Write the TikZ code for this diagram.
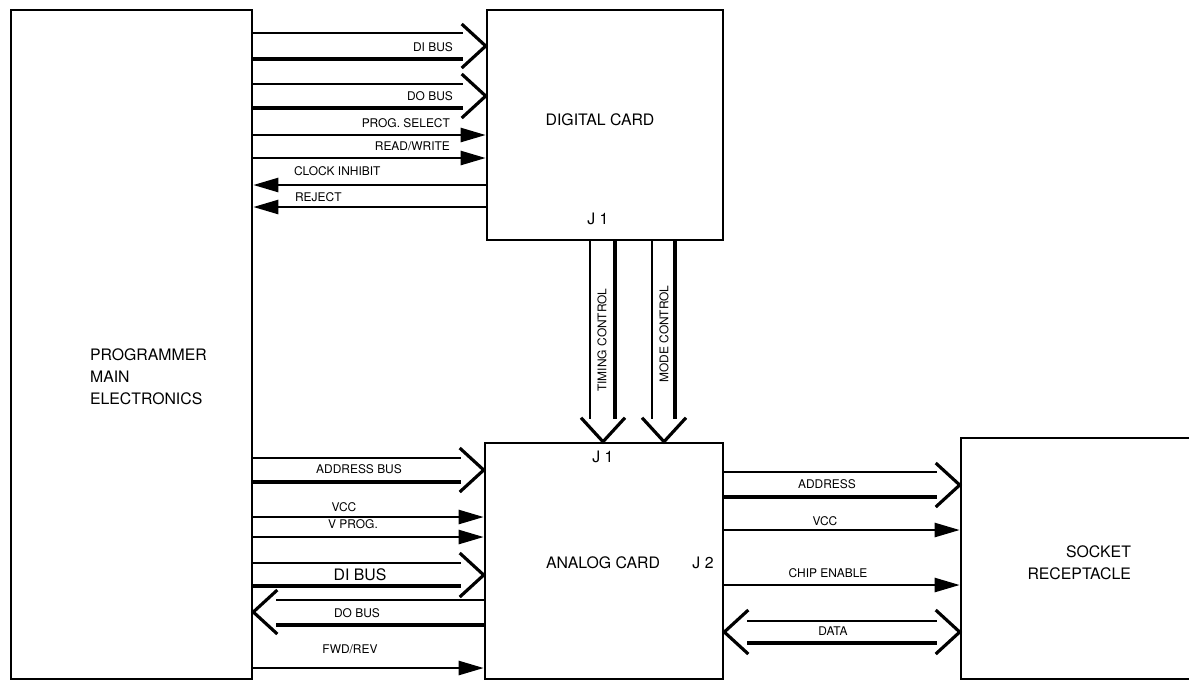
\documentclass[tikz,border=0pt]{standalone}
\usepackage{fontspec}
\setmainfont{TeX Gyre Heros}
\usetikzlibrary{arrows.meta}
\tikzset{%%
  >={Triangle[length=5mm,width=2.8mm]},
  card/.style={draw, line width=1.5pt, inner sep=0pt},
  sig/.style={line width=1.4pt},
  thinbus/.style={line width=1.1pt, shorten >=4.6mm},
  thickbus/.style={line width=2.2pt, shorten >=4.6mm},
  chev/.style={line width=1.8pt},
  lbl/.style={font=\fontsize{6.8}{7}\selectfont, inner sep=1pt},
  big/.style={font=\fontsize{9}{12.5}\selectfont, inner sep=1pt}
  }

\begin{document}
\begin{tikzpicture}[x=0.02cm, y=-0.02cm]
  \useasboundingbox (0,0) rectangle (1189,681);
  % blocks
  \node[card, minimum width=4.82cm, minimum height=13.38cm] (main) at (131.5,344.5) {};
  \node[card, minimum width=4.72cm, minimum height=4.6cm] (dig) at (605,125) {};
  \node[card, minimum width=4.76cm, minimum height=4.72cm] (ana) at (604,561) {};
  \node[card, minimum width=5cm, minimum height=4.82cm] (sock) at (1086,558.5) {};
  \node[big, align=left, anchor=west] (mainlbl) at (88,377) {PROGRAMMER\\MAIN\\ELECTRONICS};
  \node[big] (diglbl) at (600,120) {DIGITAL CARD};
  \node[big] (digj) at (598,219) {J 1};
  \node[big] (analbl) at (603,563) {ANALOG CARD};
  \node[big] (anaj1) at (603,457) {J 1};
  \node[big] (anaj2) at (703,563) {J 2};
  \node[big, align=right, anchor=east] (socklbl) at (1133,563) {SOCKET\\RECEPTACLE};
  % main -> digital card
  \draw[thinbus] (main.east |- 0,33) -- (dig.west |- 0,33);
  \draw[thickbus] (main.east |- 0,59) -- (dig.west |- 0,59);
  \draw[chev] (dig.west |- 0,46) ++(-24,-22) -- (dig.west |- 0,46) -- ++(-24,22);
  \node[lbl, anchor=east] (dibus) at (455,47) {DI BUS};
  \draw[thinbus] (main.east |- 0,84) -- (dig.west |- 0,84);
  \draw[thickbus] (main.east |- 0,108) -- (dig.west |- 0,108);
  \draw[chev] (dig.west |- 0,96) ++(-24,-22) -- (dig.west |- 0,96) -- ++(-24,22);
  \node[lbl, anchor=east] (dobus) at (455,96) {DO BUS};
  \draw[sig, ->] (main.east |- 0,135) -- (dig.west |- 0,135);
  \node[lbl, anchor=east] (progsel) at (452,123) {PROG. SELECT};
  \draw[sig, ->] (main.east |- 0,158) -- (dig.west |- 0,158);
  \node[lbl, anchor=east] (rdwr) at (452,146) {READ/WRITE};
  \draw[sig, <-] (main.east |- 0,185) -- (dig.west |- 0,185);
  \node[lbl, anchor=west] (clkinh) at (292,171) {CLOCK INHIBIT};
  \draw[sig, <-] (main.east |- 0,207) -- (dig.west |- 0,207);
  \node[lbl, anchor=west] (reject) at (293,197) {REJECT};
  % digital card -> analog card
  \draw[thinbus] (dig.south -| 590,0) -- (ana.north -| 590,0);
  \draw[thickbus] (dig.south -| 615,0) -- (ana.north -| 615,0);
  \draw[chev] (ana.north -| 603,0) ++(-22,-24) -- (ana.north -| 603,0) -- ++(22,-24);
  \node[lbl, rotate=90] (timing) at (602,340) {TIMING CONTROL};
  \draw[thinbus] (dig.south -| 652,0) -- (ana.north -| 652,0);
  \draw[thickbus] (dig.south -| 675,0) -- (ana.north -| 675,0);
  \draw[chev] (ana.north -| 664,0) ++(-22,-24) -- (ana.north -| 664,0) -- ++(22,-24);
  \node[lbl, rotate=90] (mode) at (664,334) {MODE CONTROL};
  % main <-> analog card
  \draw[thinbus] (main.east |- 0,458) -- (ana.west |- 0,458);
  \draw[thickbus] (main.east |- 0,482) -- (ana.west |- 0,482);
  \draw[chev] (ana.west |- 0,470) ++(-24,-22) -- (ana.west |- 0,470) -- ++(-24,22);
  \node[lbl] (addrbus) at (359,469) {ADDRESS BUS};
  \draw[sig, ->] (main.east |- 0,517) -- (ana.west |- 0,517);
  \node[lbl] (vcc) at (344,507) {VCC};
  \draw[sig, ->] (main.east |- 0,537) -- (ana.west |- 0,537);
  \node[lbl] (vprog) at (353,524) {V PROG.};
  \draw[thinbus] (main.east |- 0,563) -- (ana.west |- 0,563);
  \draw[thickbus] (main.east |- 0,586) -- (ana.west |- 0,586);
  \draw[chev] (ana.west |- 0,575) ++(-24,-22) -- (ana.west |- 0,575) -- ++(-24,22);
  \node[big] (dibus2) at (360,575) {DI BUS};
  \draw[thinbus] (ana.west |- 0,600) -- (main.east |- 0,600);
  \draw[thickbus] (ana.west |- 0,625) -- (main.east |- 0,625);
  \draw[chev] (main.east |- 0,612) ++(24,-22) -- (main.east |- 0,612) -- ++(24,22);
  \node[lbl] (dobus2) at (357,613) {DO BUS};
  \draw[sig, ->] (main.east |- 0,668) -- (ana.west |- 0,668);
  \node[lbl] (fwdrev) at (350,649) {FWD/REV};
  % analog card <-> socket
  \draw[thinbus] (ana.east |- 0,472) -- (sock.west |- 0,472);
  \draw[thickbus] (ana.east |- 0,497) -- (sock.west |- 0,497);
  \draw[chev] (sock.west |- 0,485) ++(-24,-22) -- (sock.west |- 0,485) -- ++(-24,22);
  \node[lbl] (addr) at (827,484) {ADDRESS};
  \draw[sig, ->] (ana.east |- 0,530) -- (sock.west |- 0,530);
  \node[lbl] (vcc2) at (825,521) {VCC};
  \draw[sig, ->] (ana.east |- 0,585) -- (sock.west |- 0,585);
  \node[lbl] (chipen) at (828,573) {CHIP ENABLE};
  \draw[thinbus, shorten <=4.6mm] (ana.east |- 0,621) -- (sock.west |- 0,621);
  \draw[thickbus, shorten <=4.6mm] (ana.east |- 0,643) -- (sock.west |- 0,643);
  \draw[chev] (ana.east |- 0,632) ++(24,-22) -- (ana.east |- 0,632) -- ++(24,22);
  \draw[chev] (sock.west |- 0,632) ++(-24,-22) -- (sock.west |- 0,632) -- ++(-24,22);
  \node[lbl] (data) at (833,631) {DATA};
\end{tikzpicture}
\end{document}
